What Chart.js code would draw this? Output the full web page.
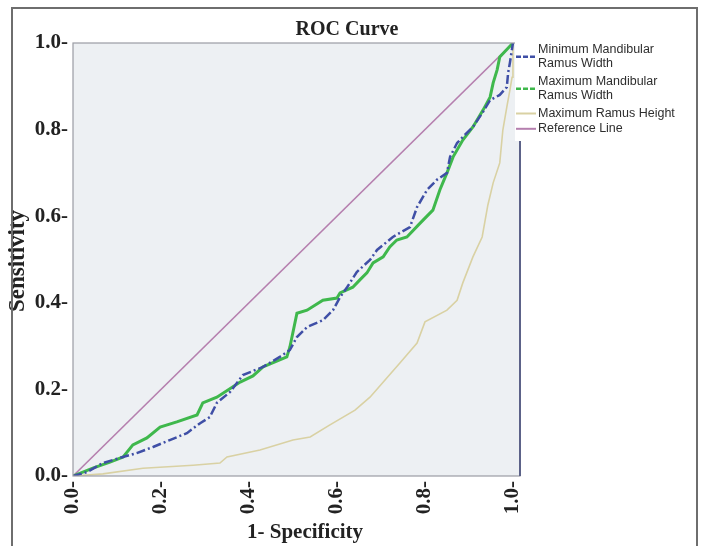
<!DOCTYPE html>
<html>
<head>
<meta charset="utf-8">
<script src="https://cdn.jsdelivr.net/npm/chart.js@4/dist/chart.umd.min.js"></script>
<style>
  html, body { margin: 0; padding: 0; background: #ffffff; }
  #wrap { width: 701px; height: 546px; position: relative; }
</style>
</head>
<body>
<div id="wrap"><canvas id="c" width="701" height="546"></canvas></div>
<script>
// ---- data (1 - specificity, sensitivity) ----
const chartTitle = 'ROC Curve';
const xAxisTitle = '1- Specificity';
const yAxisTitle = 'Sensitivity';
const tickValues = [0, 0.2, 0.4, 0.6, 0.8, 1.0];
const tickLabels = ['0.0-', '0.2-', '0.4-', '0.6-', '0.8-', '1.0-'];
const seriesNames = [
  ['Minimum Mandibular', 'Ramus Width'],
  ['Maximum Mandibular', 'Ramus Width'],
  ['Maximum Ramus Height'],
  ['Reference Line']
];

const minWidthX = [0, 0.032, 0.068, 0.107, 0.145, 0.182, 0.220, 0.259, 0.289, 0.311, 0.327, 0.357, 0.386, 0.432, 0.470, 0.493, 0.509, 0.532, 0.568, 0.591, 0.607, 0.623, 0.645, 0.675, 0.691, 0.727, 0.766, 0.782, 0.805, 0.827, 0.850, 0.857, 0.873, 0.886, 0.909, 0.932, 0.948, 0.970, 0.986, 0.989, 0.993, 1.0];
const minWidthY = [0, 0.009, 0.030, 0.042, 0.053, 0.067, 0.083, 0.099, 0.122, 0.136, 0.169, 0.194, 0.233, 0.252, 0.275, 0.291, 0.321, 0.344, 0.360, 0.383, 0.413, 0.436, 0.471, 0.499, 0.522, 0.552, 0.575, 0.621, 0.661, 0.684, 0.700, 0.737, 0.769, 0.783, 0.806, 0.841, 0.868, 0.880, 0.898, 0.931, 0.954, 1.0];

const maxWidthX = [0, 0.045, 0.084, 0.114, 0.136, 0.168, 0.198, 0.236, 0.282, 0.295, 0.327, 0.380, 0.409, 0.432, 0.486, 0.493, 0.509, 0.532, 0.568, 0.600, 0.607, 0.636, 0.652, 0.668, 0.682, 0.705, 0.720, 0.736, 0.759, 0.789, 0.818, 0.834, 0.850, 0.864, 0.886, 0.909, 0.932, 0.948, 0.955, 0.964, 0.970, 1.0];
const maxWidthY = [0, 0.018, 0.032, 0.044, 0.072, 0.088, 0.113, 0.125, 0.141, 0.169, 0.182, 0.217, 0.231, 0.252, 0.275, 0.298, 0.376, 0.383, 0.406, 0.411, 0.423, 0.436, 0.453, 0.469, 0.492, 0.506, 0.529, 0.545, 0.552, 0.584, 0.614, 0.661, 0.700, 0.737, 0.776, 0.806, 0.845, 0.875, 0.908, 0.938, 0.968, 1.0];

const heightX = [0, 0.068, 0.159, 0.273, 0.334, 0.350, 0.425, 0.500, 0.539, 0.584, 0.641, 0.675, 0.743, 0.782, 0.800, 0.850, 0.873, 0.886, 0.909, 0.930, 0.943, 0.955, 0.970, 0.977, 0.986, 0.993, 0.998, 1.0];
const heightY = [0, 0.005, 0.018, 0.025, 0.030, 0.044, 0.060, 0.083, 0.090, 0.118, 0.152, 0.182, 0.261, 0.307, 0.356, 0.383, 0.406, 0.446, 0.506, 0.552, 0.626, 0.677, 0.723, 0.799, 0.852, 0.891, 0.921, 1.0];

const refX = [0, 1];
const refY = [0, 1];

// ---- styles ----
const serif = '"Liberation Serif", "Times New Roman", serif';
const sans = '"Liberation Sans", Arial, sans-serif';
const colors = ['#3f4fa6', '#3fb84c', '#d9d1a3', '#b57fae'];
const widths = [2.5, 3, 1.6, 1.6];
const dashes = [[9, 3, 2, 3], [], [], []];
const legendDashes = [[5, 2], [5, 2], [], []];

function pts(xs, ys) { return xs.map((x, i) => ({ x: x, y: ys[i] })); }

const seriesData = [pts(minWidthX, minWidthY), pts(maxWidthX, maxWidthY), pts(heightX, heightY), pts(refX, refY)];

const datasets = seriesData.map((d, i) => ({
  label: seriesNames[i].join(' '),
  data: d,
  showLine: true,
  borderColor: colors[i],
  backgroundColor: colors[i],
  borderWidth: widths[i],
  borderDash: dashes[i],
  pointRadius: 0,
  tension: 0,
  fill: false,
  order: i
}));

const decor = {
  id: 'decor',
  beforeDraw(chart) {
    const ctx = chart.ctx, a = chart.chartArea;
    ctx.save();
    ctx.fillStyle = '#ffffff';
    ctx.fillRect(0, 0, chart.width, chart.height);
    ctx.fillStyle = '#edf0f3';
    ctx.fillRect(a.left, a.top, a.right - a.left, a.bottom - a.top);
    ctx.restore();
  },
  afterDatasetsDraw(chart) {
    const ctx = chart.ctx, a = chart.chartArea;
    ctx.save();
    // plot border
    ctx.strokeStyle = '#9a9ca4';
    ctx.lineWidth = 1.2;
    ctx.strokeRect(a.left, a.top, a.right - a.left, a.bottom - a.top);
    ctx.strokeStyle = '#5c6288';
    ctx.lineWidth = 2;
    ctx.beginPath();
    ctx.moveTo(a.right, a.top);
    ctx.lineTo(a.right, a.bottom);
    ctx.stroke();

    // legend
    const lx = 515, ly = 40;
    ctx.fillStyle = '#ffffff';
    ctx.fillRect(lx, ly, 181, 101);
    ctx.font = '12.5px ' + sans;
    ctx.fillStyle = '#2e2e2e';
    ctx.textAlign = 'left';
    ctx.textBaseline = 'middle';
    const lineH = 14.5;
    let y = ly + 9.5;
    chart.data.datasets.forEach((ds, i) => {
      const lines = seriesNames[i];
      const midY = y + (lines.length - 1) * lineH / 2;
      ctx.save();
      ctx.strokeStyle = ds.borderColor;
      ctx.lineWidth = i < 2 ? 2.5 : 2;
      ctx.setLineDash(legendDashes[i]);
      ctx.beginPath();
      ctx.moveTo(lx + 1, midY);
      ctx.lineTo(lx + 21, midY);
      ctx.stroke();
      ctx.restore();
      lines.forEach((t, j) => ctx.fillText(t, lx + 23, y + j * lineH));
      y += lines.length * lineH + (lines.length > 1 ? 3 : 0.8);
    });

    // titles
    ctx.fillStyle = '#222222';
    ctx.font = 'bold 20px ' + serif;
    ctx.textAlign = 'center';
    ctx.textBaseline = 'middle';
    ctx.fillText(chartTitle, 347, 30);
    ctx.font = 'bold 21px ' + serif;
    ctx.fillText(xAxisTitle, 305, 533);
    ctx.save();
    ctx.translate(18, 261);
    ctx.rotate(-Math.PI / 2);
    ctx.font = 'bold 23px ' + serif;
    ctx.fillText(yAxisTitle, 0, 0);
    ctx.restore();

    // outer frame
    ctx.strokeStyle = '#6e6e6e';
    ctx.lineWidth = 2;
    ctx.beginPath();
    ctx.moveTo(12, 546);
    ctx.lineTo(12, 8);
    ctx.lineTo(697, 8);
    ctx.lineTo(697, 546);
    ctx.stroke();
    ctx.restore();
  }
};

function setTicks(scale) { scale.ticks = tickValues.map(v => ({ value: v })); }
function tickLabel(v) { const i = tickValues.findIndex(t => Math.abs(t - v) < 1e-9); return i >= 0 ? tickLabels[i] : ''; }

new Chart(document.getElementById('c'), {
  type: 'scatter',
  data: { datasets: datasets },
  options: {
    responsive: false,
    animation: false,
    devicePixelRatio: 1,
    layout: { padding: { left: 0, top: 43, right: 181, bottom: 0 } },
    plugins: { legend: { display: false }, title: { display: false }, tooltip: { enabled: false } },
    scales: {
      x: {
        type: 'linear',
        min: 0,
        max: 1.016,
        afterBuildTicks: setTicks,
        afterFit(s) { s.height = 70; },
        grid: { display: false, drawTicks: false },
        border: { display: false },
        ticks: {
          callback: tickLabel,
          minRotation: 90,
          maxRotation: 90,
          padding: 5,
          color: '#222222',
          font: { family: serif, size: 21, weight: 'bold' }
        }
      },
      y: {
        type: 'linear',
        min: 0,
        max: 1.0,
        afterBuildTicks: setTicks,
        afterFit(s) { s.width = 73; },
        grid: { display: false, drawTicks: false },
        border: { display: false },
        ticks: {
          callback: tickLabel,
          padding: 5,
          color: '#222222',
          font: { family: serif, size: 21, weight: 'bold' }
        }
      }
    }
  },
  plugins: [decor]
});
</script>
</body>
</html>
